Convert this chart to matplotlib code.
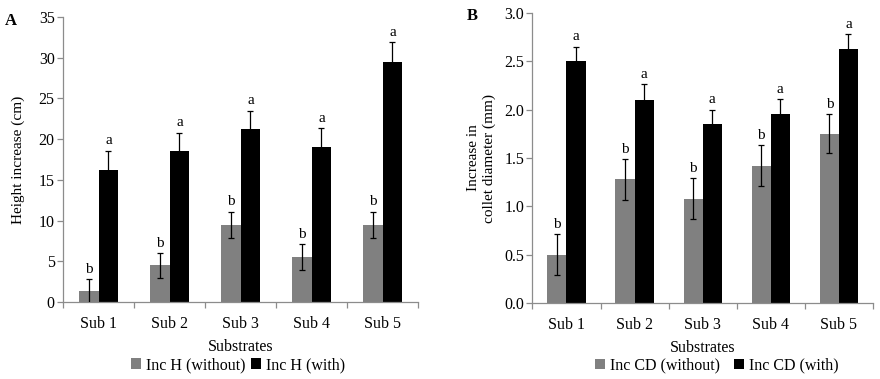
import matplotlib
matplotlib.use("Agg")
import matplotlib.pyplot as plt
import numpy as np

plt.rcParams['font.family'] = ['Liberation Serif', 'DejaVu Serif']

categories = ["Sub 1", "Sub 2", "Sub 3", "Sub 4", "Sub 5"]

h_without = [1.3, 4.5, 9.5, 5.5, 9.5]
h_without_err = [1.5, 1.5, 1.6, 1.6, 1.6]
h_with = [16.2, 18.5, 21.3, 19.0, 29.5]
h_with_err = [2.4, 2.3, 2.2, 2.4, 2.4]
h_letters_without = ["b", "b", "b", "b", "b"]
h_letters_with = ["a", "a", "a", "a", "a"]

cd_without = [0.50, 1.28, 1.08, 1.42, 1.75]
cd_without_err = [0.21, 0.21, 0.21, 0.21, 0.20]
cd_with = [2.50, 2.10, 1.85, 1.95, 2.63]
cd_with_err = [0.15, 0.16, 0.15, 0.16, 0.15]
cd_letters_without = ["b", "b", "b", "b", "b"]
cd_letters_with = ["a", "a", "a", "a", "a"]

GRAY = "#808080"
BLACK = "#000000"
SPINE = "#8c8c8c"
FS = 11

fig = plt.figure(figsize=(8.8, 3.79), dpi=100)
axA = fig.add_axes([0.0716, 0.203, 0.4034, 0.752])
axB = fig.add_axes([0.605, 0.200, 0.387, 0.766])


def draw(ax, wo, wo_err, wi, wi_err, lw, lwi, ymax, ystep, fmt, ylabel, leg_labels,
         letter_pad, ylabelpad, leg_x, leg_y, colsp):
    x = np.arange(len(categories))
    w = 0.28
    ax.bar(x - w / 2, wo, w, color=GRAY, label=leg_labels[0], zorder=2)
    ax.bar(x + w / 2, wi, w, color=BLACK, label=leg_labels[1], zorder=2)
    ax.errorbar(x - w / 2, wo, yerr=wo_err, fmt='none', ecolor='black', elinewidth=0.9,
                capsize=2.5, capthick=0.9, zorder=3)
    ax.errorbar(x + w / 2, wi, yerr=wi_err, fmt='none', ecolor='black', elinewidth=0.9,
                capsize=2.5, capthick=0.9, zorder=3)
    for i in range(len(categories)):
        ax.text(x[i] - w / 2, wo[i] + wo_err[i] + letter_pad, lw[i], ha='center', va='bottom', fontsize=FS)
        ax.text(x[i] + w / 2, wi[i] + wi_err[i] + letter_pad, lwi[i], ha='center', va='bottom', fontsize=FS)
    ax.set_xlim(-0.5, len(categories) - 0.5)
    ax.set_ylim(0, ymax)
    ticks = np.arange(0, ymax + ystep / 2, ystep)
    ax.set_yticks(ticks)
    ax.set_yticklabels([fmt.format(t) for t in ticks], fontsize=FS + 0.5)
    ax.set_xticks(x)
    ax.set_xticklabels(categories, fontsize=FS + 0.5)
    ax.set_xticks(np.arange(-0.5, len(categories)), minor=True)
    ax.tick_params(axis='x', which='major', length=0, pad=10)
    ax.tick_params(axis='x', which='minor', length=4, color=SPINE, width=0.9)
    ax.tick_params(axis='y', length=4, color=SPINE, width=0.9, pad=2)
    for s in ['top', 'right']:
        ax.spines[s].set_visible(False)
    for s in ['left', 'bottom']:
        ax.spines[s].set_color(SPINE)
        ax.spines[s].set_linewidth(0.9)
    ax.set_xlabel("Substrates", fontsize=FS + 0.5, labelpad=5)
    ax.set_ylabel(ylabel, fontsize=FS, labelpad=ylabelpad)
    ax.legend(loc='center', bbox_to_anchor=(leg_x, leg_y), ncol=2, frameon=False,
              fontsize=FS + 0.5, handlelength=0.62, handleheight=0.62, handletextpad=0.3,
              columnspacing=colsp, borderaxespad=0, borderpad=0)


draw(axA, h_without, h_without_err, h_with, h_with_err, h_letters_without, h_letters_with,
     35, 5, "{:.0f}", "Height increase (cm)", ["Inc H (without)", "Inc H (with)"], 0.4,
     10, 0.493, -0.221, 0.35)
draw(axB, cd_without, cd_without_err, cd_with, cd_with_err, cd_letters_without, cd_letters_with,
     3.0, 0.5, "{:.1f}", "Increase in\ncollet diameter (mm)", ["Inc CD (without)", "Inc CD (with)"], 0.035,
     6, 0.542, -0.214, 0.9)

fig.text(0.006, 0.945, "A", fontsize=FS + 1, fontweight='bold', va='center')
fig.text(0.531, 0.958, "B", fontsize=FS + 1, fontweight='bold', va='center')

fig.savefig("out.png", dpi=100)
